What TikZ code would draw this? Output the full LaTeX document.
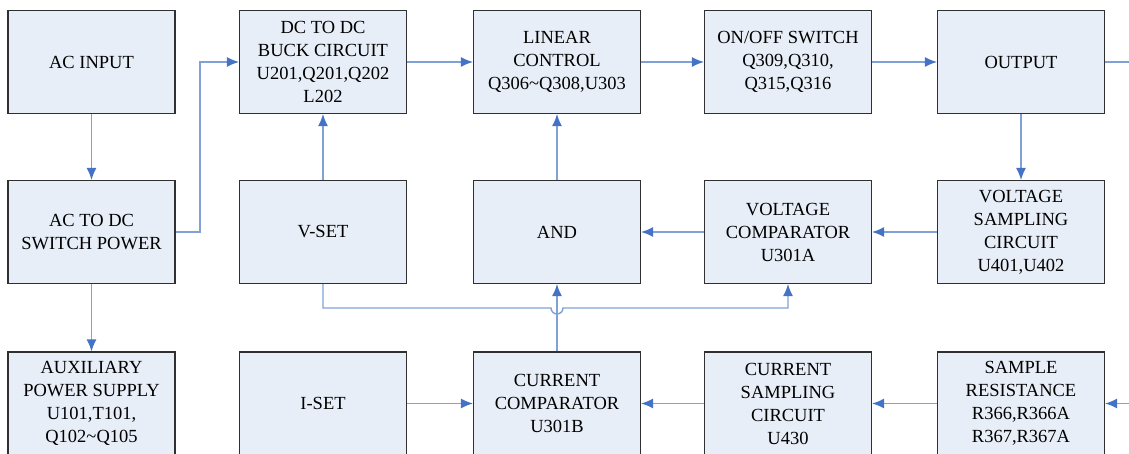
\documentclass[tikz,border=0pt]{standalone}
\usepackage{fontspec}
\setmainfont{Liberation Serif}
\usetikzlibrary{arrows.meta}

\definecolor{boxfill}{HTML}{E8EEF7}
\definecolor{boxline}{HTML}{303030}
\definecolor{wire}{HTML}{7FA1D8}
\definecolor{tipblue}{HTML}{4472C4}

\tikzset{
  block/.style={draw=boxline, line width=1.1pt, fill=boxfill, minimum width=167pt,
    minimum height=103pt, align=center, inner sep=2pt,
    font=\fontsize{18.5}{23}\selectfont},
  link/.style={draw=wire, line width=1.4pt,
    -{Latex[length=12pt,width=10pt,color=tipblue]}},
  plain/.style={draw=wire, line width=1.4pt}
}

\begin{document}
\begin{tikzpicture}[x=1pt,y=-1pt]
   \useasboundingbox (0,0) rectangle (1129,454);
   % top row
   \node[block] (acin) at (91.5,62) {AC INPUT};
   \node[block] (buck) at (323,62) {DC TO DC\\BUCK CIRCUIT\\U201,Q201,Q202\\L202};
   \node[block] (linear) at (557,62) {LINEAR\\CONTROL\\Q306\char`~Q308,U303};
   \node[block] (onoff) at (788,62) {ON/OFF SWITCH\\Q309,Q310,\\Q315,Q316};
   \node[block] (output) at (1021,62) {OUTPUT};
   % middle row
   \node[block] (acdc) at (91.5,232) {AC TO DC\\SWITCH POWER};
   \node[block] (vset) at (323,232) {V-SET};
   \node[block] (andg) at (557,232) {AND};
   \node[block] (vcmp) at (788,232) {VOLTAGE\\COMPARATOR\\U301A};
   \node[block] (vsamp) at (1021,232) {VOLTAGE\\SAMPLING\\CIRCUIT\\U401,U402};
   % bottom row
   \node[block] (aux) at (91.5,403.5) {AUXILIARY\\POWER SUPPLY\\U101,T101,\\Q102\char`~Q105};
   \node[block] (iset) at (323,403.5) {I-SET};
   \node[block] (ccmp) at (557,403.5) {CURRENT\\COMPARATOR\\U301B};
   \node[block] (csamp) at (788,403.5) {CURRENT\\SAMPLING\\CIRCUIT\\U430};
   \node[block] (sres) at (1021,403.5) {SAMPLE\\RESISTANCE\\R366,R366A\\R367,R367A};
   % loose ends at the right border
   \coordinate (outend) at (1129,62);
   \coordinate (resin) at (1129,403.5);

   % power path
   \draw[link] (acin) -- (acdc);
   \draw[link] (acdc) -- (aux);
   \draw[link] (acdc.east) -- (200,232) -- (200,62) -- (buck.west);
   \draw[link] (buck) -- (linear);
   \draw[link] (linear) -- (onoff);
   \draw[link] (onoff) -- (output);
   \draw[plain] (output.east) -- (outend);
   % voltage loop
   \draw[link] (output) -- (vsamp);
   \draw[link] (vsamp) -- (vcmp);
   \draw[link] (vcmp) -- (andg);
   \draw[link] (andg) -- (linear);
   \draw[link] (vset) -- (buck);
   \draw[link] (vset.south) -- (323,308) -- (551,308)
      arc[start angle=180,end angle=0,radius=6] -- (788,308) -- (vcmp.south);
   % current loop
   \draw[link] (ccmp) -- (andg);
   \draw[link] (iset) -- (ccmp);
   \draw[link] (csamp) -- (ccmp);
   \draw[link] (sres) -- (csamp);
   \draw[link] (resin) -- (sres.east);
\end{tikzpicture}
\end{document}
